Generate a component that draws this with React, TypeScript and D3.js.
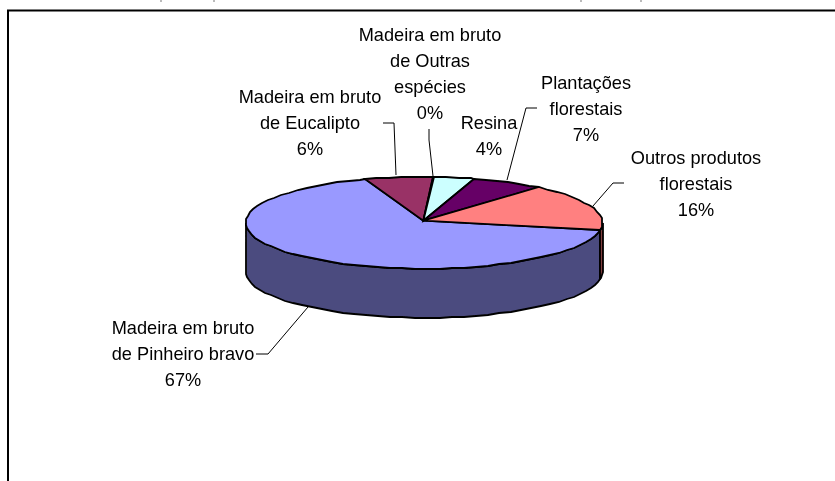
import React from "react";
import * as d3 from "d3";

const W = 835;
const H = 481;

const categories = [
  "Madeira em bruto de Pinheiro bravo",
  "Madeira em bruto de Eucalipto",
  "Madeira em bruto de Outras espécies",
  "Resina",
  "Plantações florestais",
  "Outros produtos florestais",
];
const shareValues = [67.1, 6.2, 0.1, 3.6, 6.6, 16.4];
const topColors = ["#9999FF", "#993366", "#CCFFFF", "#CCFFFF", "#660066", "#FF8080"];
const sideColors = ["#4C4C7F", "#4C1933", "#667F7F", "#667F7F", "#330033", "#7F4040"];
const labelLines = [
  ["Madeira em bruto", "de Pinheiro bravo", "67%"],
  ["Madeira em bruto", "de Eucalipto", "6%"],
  ["Madeira em bruto", "de Outras", "espécies", "0%"],
  ["Resina", "4%"],
  ["Plantações", "florestais", "7%"],
  ["Outros produtos", "florestais", "16%"],
];
const labelAnchors: [number, number][] = [
  [183, 334],
  [310, 103],
  [430, 41],
  [489, 129],
  [586, 89],
  [696, 164],
];
const leaders: [number, number][][] = [
  [[256, 354], [268, 354], [308, 307]],
  [[383, 123], [394, 123], [396, 175]],
  [[429, 129], [429, 140], [433, 176]],
  [[537, 108], [526, 108], [507, 180]],
  [[624, 183], [613, 183], [593, 206]],
];
const clippedTitleMarks: [number, number][] = [[160, 2], [213, 2], [580, 2], [640, 2]];

const cx = 424;
const cy = 222.7;
const rx = 178.5;
const ry = 46;
const depth = 49;
const apex: [number, number] = [423.3, 220.7];
const LINE_GAP = 26;
const startDeg = 99;

const pieGen = d3
  .pie<number>()
  .sort(null)
  .startAngle((startDeg * Math.PI) / 180)
  .endAngle(((startDeg + 360) * Math.PI) / 180);
const slices = pieGen(shareValues);

const pt = (a: number, dy = 0): [number, number] => [
  Math.round(cx + rx * Math.sin(a)),
  Math.round(cy - ry * Math.cos(a) + dy),
];
const STEP = (4 * Math.PI) / 180;
const arcPts = (a0: number, a1: number, dy = 0): [number, number][] => {
  const out = d3.range(a0, a1, STEP).map((a) => pt(a, dy));
  out.push(pt(a1, dy));
  return out;
};
const line = d3.line();

const sidePath = (a0: number, a1: number) => {
  const s = Math.max(a0, Math.PI / 2);
  const e = Math.min(a1, (3 * Math.PI) / 2);
  if (e <= s) return "";
  return line([...arcPts(s, e), ...arcPts(s, e, depth).reverse()]) + "Z";
};
const sideSegments = slices.flatMap((d, i) => {
  const parts: { d: string; i: number }[] = [];
  const p1 = sidePath(d.startAngle, d.endAngle);
  if (p1) parts.push({ d: p1, i });
  const p2 = sidePath(d.startAngle - 2 * Math.PI, d.endAngle - 2 * Math.PI);
  if (p2) parts.push({ d: p2, i });
  return parts;
});

export default function App() {
  return (
    <svg
      width={W}
      height={H}
      viewBox={`0 0 ${W} ${H}`}
      style={{ position: "absolute", left: 0, top: 0, background: "#fff" }}
    >
      <defs>
        <filter id="soft" x="-5%" y="-5%" width="110%" height="110%">
          <feGaussianBlur stdDeviation="0.3" />
        </filter>
      </defs>
      <g filter="url(#soft)">
        {clippedTitleMarks.map(([x, h], k) => (
          <rect key={k} x={x} y={0} width={2} height={h} fill="#bbb" />
        ))}
        <path d={`M8 ${H + 5}V10.5H${W + 5}`} fill="#fff" stroke="#000" strokeWidth={2} />
        {sideSegments.map((s, k) => (
          <path key={k} d={s.d} fill={sideColors[s.i]} stroke="#000" strokeWidth={1.8} strokeLinejoin="miter" />
        ))}
        {slices.map((d, i) => (
          <path
            key={categories[i]}
            d={line([apex, ...arcPts(d.startAngle, d.endAngle)]) + "Z"}
            fill={topColors[i]}
            stroke="#000"
            strokeWidth={1.8}
            strokeLinejoin="miter"
          />
        ))}
        {leaders.map((l, k) => (
          <path key={k} d={line(l) ?? ""} fill="none" stroke="#000" strokeWidth={1} />
        ))}
        {labelLines.map((lines, i) => (
          <text
            key={i}
            textAnchor="middle"
            fontFamily="'Liberation Sans', Arial, sans-serif"
            fontSize={18.2}
            fill="#000"
          >
            {lines.map((t, j) => (
              <tspan key={j} x={labelAnchors[i][0]} y={labelAnchors[i][1] + j * LINE_GAP}>
                {t}
              </tspan>
            ))}
          </text>
        ))}
      </g>
    </svg>
  );
}
